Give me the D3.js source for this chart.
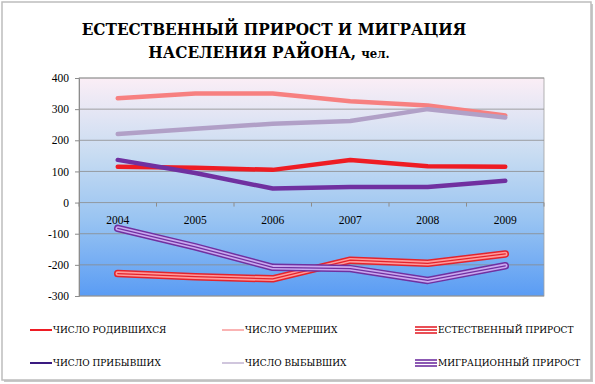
<!DOCTYPE html>
<html>
<head>
<meta charset="utf-8">
<script src="https://cdn.jsdelivr.net/npm/d3@7"></script>
<style>
  body { margin: 0; background: #fff; }
</style>
</head>
<body>
<div id="chart"></div>
<script>
// years and series
let years = ['2004', '2005', '2006', '2007', '2008', '2009']
let born      = [115, 112, 105, 137, 117, 115]
let died      = [335, 350, 350, 325, 312, 280]
let arrived   = [137, 95, 45, 50, 50, 70]
let departed  = [220, 237, 253, 262, 300, 273]
let natGrowth = [-228, -238, -245, -185, -195, -165]
let migGrowth = [-83, -142, -208, -212, -250, -203]
let yTicks = [-300, -200, -100, 0, 100, 200, 300, 400]

let series = [
  {name: 'ЧИСЛО РОДИВШИХСЯ', values: born, color: '#ee1c24', width: 4.5},
  {name: 'ЧИСЛО УМЕРШИХ', values: died, color: '#f78080', width: 4.5},
  {name: 'ЕСТЕСТВЕННЫЙ ПРИРОСТ', values: natGrowth, color: '#e4232c', inner: '#ff9a9a', double: true},
  {name: 'ЧИСЛО ПРИБЫВШИХ', values: arrived, color: '#7030a0', width: 4.5},
  {name: 'ЧИСЛО ВЫБЫВШИХ', values: departed, color: '#b1a0c7', width: 4.5},
  {name: 'МИГРАЦИОННЫЙ ПРИРОСТ', values: migGrowth, color: '#7030a0', inner: '#c9a8f0', double: true}
]

// Liberation Serif has no cyrillic here, so DejaVu Serif for the words
let numFont = '"Liberation Serif", "Times New Roman", serif'
let cyrFont = '"DejaVu Serif", serif'

let width = 595, height = 384
let svg = d3.select('#chart').append('svg')
            .attr('width', width)
            .attr('height', height)

// outer frame with shadow
svg.append('rect').attr('x', 4).attr('y', 4).attr('width', 589).attr('height', 378).attr('fill', '#c8c8c8')
svg.append('rect').attr('x', 2).attr('y', 2).attr('width', 589).attr('height', 378)
   .attr('fill', '#fff').attr('stroke', '#bdbdbd').attr('stroke-width', 1.5)

let plot = {left: 79, right: 544, top: 78, bottom: 296}

let x = d3.scalePoint().domain(years).range([plot.left, plot.right]).padding(0.5)
let y = d3.scaleLinear().domain([-300, 400]).range([plot.bottom, plot.top])

let defs = svg.append('defs')
let grad = defs.append('linearGradient').attr('id', 'bg')
               .attr('x1', 0).attr('y1', 0).attr('x2', 0).attr('y2', 1)
grad.append('stop').attr('offset', '0%').attr('stop-color', '#fbeef6')
grad.append('stop').attr('offset', '35%').attr('stop-color', '#c8dcf2')
grad.append('stop').attr('offset', '65%').attr('stop-color', '#99c4f2')
grad.append('stop').attr('offset', '100%').attr('stop-color', '#5a9cf4')

svg.append('rect')
   .attr('x', plot.left).attr('y', plot.top)
   .attr('width', plot.right - plot.left).attr('height', plot.bottom - plot.top)
   .attr('fill', 'url(#bg)')
   .attr('stroke', '#a0a0a0').attr('stroke-width', 0.8)

// gridlines
svg.append('g').selectAll('line')
   .data(yTicks)
   .enter().append('line')
   .attr('x1', plot.left).attr('x2', plot.right)
   .attr('y1', d => y(d)).attr('y2', d => y(d))
   .attr('stroke', '#8c8c8c').attr('stroke-width', 0.8)

// y axis
let yAxis = d3.axisLeft(y).tickValues(yTicks).tickFormat(d => String(d)).tickSize(4).tickPadding(6)
let gy = svg.append('g').attr('transform', `translate(${plot.left},0)`).call(yAxis)
gy.attr('font-family', numFont).attr('font-size', 11.5)
gy.select('.domain').attr('stroke', '#8c8c8c')
gy.selectAll('.tick line').attr('stroke', '#8c8c8c')
gy.selectAll('text').attr('fill', '#000')

// category axis on the zero line
let step = x.step()
let gx = svg.append('g').attr('transform', `translate(0,${y(0)})`)
gx.selectAll('line')
  .data(d3.range(years.length + 1))
  .enter().append('line')
  .attr('x1', i => plot.left + i * step).attr('x2', i => plot.left + i * step)
  .attr('y1', 0).attr('y2', 4)
  .attr('stroke', '#8c8c8c')
gx.selectAll('text')
  .data(years)
  .enter().append('text')
  .attr('x', d => x(d)).attr('y', 21)
  .attr('text-anchor', 'middle')
  .attr('font-family', numFont)
  .attr('font-size', 11.5)
  .text(d => d)

let line = d3.line().x((d, i) => x(years[i])).y(d => y(d))

let lines = svg.append('g')
series.forEach(s => {
  if (s.double) {
    lines.append('path').attr('d', line(s.values)).attr('fill', 'none')
         .attr('stroke', s.color).attr('stroke-width', 7.5).attr('stroke-linejoin', 'round').attr('stroke-linecap', 'round')
    lines.append('path').attr('d', line(s.values)).attr('fill', 'none')
         .attr('stroke', s.inner).attr('stroke-width', 4.5).attr('stroke-linejoin', 'round').attr('stroke-linecap', 'round')
    lines.append('path').attr('d', line(s.values)).attr('fill', 'none')
         .attr('stroke', s.color).attr('stroke-width', 1.3).attr('stroke-linejoin', 'round').attr('stroke-linecap', 'round')
  } else {
    lines.append('path').attr('d', line(s.values)).attr('fill', 'none')
         .attr('stroke', s.color).attr('stroke-width', s.width)
         .attr('stroke-linejoin', 'round').attr('stroke-linecap', 'round')
  }
})

// title
let title = svg.append('text').attr('text-anchor', 'middle').attr('font-weight', 'bold')
               .attr('font-family', '"DejaVu Serif Condensed", "DejaVu Serif", serif')
               .attr('font-stretch', 'condensed')
title.append('tspan').attr('x', 274).attr('y', 35).attr('font-size', 17)
     .text('ЕСТЕСТВЕННЫЙ ПРИРОСТ И МИГРАЦИЯ')
let t2 = title.append('tspan').attr('x', 269).attr('y', 58)
t2.append('tspan').attr('font-size', 17).text('НАСЕЛЕНИЯ РАЙОНА, ')
t2.append('tspan').attr('font-size', 13).text('чел.')

// legend
let legCols = [30, 222, 415], legRows = [330, 363]
let leg = svg.append('g').selectAll('g')
   .data(series)
   .enter().append('g')
   .attr('transform', (d, i) => `translate(${legCols[i % 3]},${legRows[Math.floor(i / 3)]})`)

leg.each(function(s) {
  let g = d3.select(this)
  if (s.double) {
    [-3, 0, 3].forEach(o => {
      g.append('line').attr('x1', 0).attr('x2', 22).attr('y1', o).attr('y2', o)
       .attr('stroke', s.color).attr('stroke-width', 1.6)
    })
  } else {
    g.append('line').attr('x1', 0).attr('x2', 22).attr('y1', 0).attr('y2', 0)
     .attr('stroke', s.name === 'ЧИСЛО ПРИБЫВШИХ' ? '#3a1a80' : s.color)
     .attr('stroke-width', s.name === 'ЧИСЛО РОДИВШИХСЯ' || s.name === 'ЧИСЛО ПРИБЫВШИХ' ? 2 : 1.2)
  }
  g.append('text').attr('x', 23).attr('y', 3.3)
   .attr('font-family', cyrFont)
   .attr('font-size', 9)
   .text(s.name)
})
</script>
</body>
</html>
